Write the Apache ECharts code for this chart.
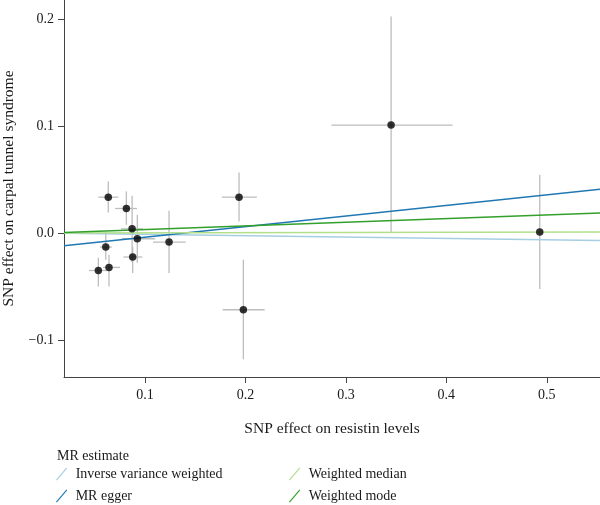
<!DOCTYPE html>
<html>
<head>
<meta charset="utf-8">
<script src="https://cdn.jsdelivr.net/npm/echarts@6/dist/echarts.min.js"></script>
<style>
  html, body { margin: 0; padding: 0; background: #fff; }
  #chart { width: 600px; height: 505px; }
</style>
</head>
<body>
<div id="chart"></div>
<script>
// SNP effects
const snpX  = [0.0634, 0.0814, 0.0871, 0.0923, 0.0609, 0.0877, 0.0641, 0.0535, 0.1239, 0.1936, 0.1979, 0.3450, 0.4930];
const snpY  = [0.0336, 0.0230, 0.0040, -0.0053, -0.0131, -0.0224, -0.0321, -0.0350, -0.0084, 0.0336, -0.0717, 0.1010, 0.0010];
const xLow  = [0.0535, 0.0701, 0.0760, 0.0768, 0.0552, 0.0784, 0.0582, 0.0442, 0.1080, 0.1764, 0.1773, 0.2855, 0.4920];
const xHigh = [0.0734, 0.0920, 0.0980, 0.1100, 0.0668, 0.0973, 0.0751, 0.0619, 0.1405, 0.2113, 0.2191, 0.4063, 0.4940];
const yLow  = [0.0193, 0.0078, -0.0270, -0.0278, -0.0250, -0.0374, -0.0499, -0.0499, -0.0374, 0.0108, -0.1180, 0.0006, -0.0523];
const yHigh = [0.0482, 0.0390, 0.0350, 0.0171, 0.0015, -0.0125, -0.0203, -0.0231, 0.0208, 0.0566, -0.0249, 0.2025, 0.0545];

// MR estimates: y = intercept + slope * x
const methods    = ['Inverse variance weighted', 'MR egger', 'Weighted median', 'Weighted mode'];
const slopes     = [-0.0125, 0.0993, 0.0018, 0.0338];
const intercepts = [0, -0.0138, 0, 0];
const colors     = ['#a6cee3', '#1f78b4', '#b2df8a', '#33a02c'];

const xTicks = [0.1, 0.2, 0.3, 0.4, 0.5];
const yTicks = [-0.1, 0.0, 0.1, 0.2];

const xMin = 0.0193, xMax = 0.553;
const yMin = -0.1346, yMax = 0.218;

const font = '"Liberation Serif", "DejaVu Serif", serif';

const myChart = echarts.init(document.getElementById('chart'));

const barData = snpX.map((x, i) => [x, snpY[i], xLow[i], xHigh[i], yLow[i], yHigh[i]]);

const lineSeries = methods.map((name, i) => ({
    name: name,
    type: 'line',
    color: colors[i],
    symbol: 'none',
    silent: true,
    z: 3,
    lineStyle: { width: 1.5, color: colors[i] },
    data: [
        [xMin, intercepts[i] + slopes[i] * xMin],
        [xMax, intercepts[i] + slopes[i] * xMax]
    ]
}));

const legendIcon = 'path://M0,14 L12,0 L13,1 L1,15 Z';
const legendBase = {
    orient: 'vertical',
    icon: legendIcon,
    itemWidth: 12,
    itemHeight: 13,
    itemGap: 8,
    padding: 0,
    height: 60,
    selectedMode: false,
    textStyle: { fontFamily: font, fontSize: 14, color: '#1a1a1a', padding: [0, 0, 0, 3] }
};

const option = {
    animation: false,
    textStyle: { fontFamily: font },
    title: {
        text: 'MR estimate',
        left: 52,
        top: 444,
        textStyle: { fontFamily: font, fontSize: 14, fontWeight: 'normal', color: '#1a1a1a' }
    },
    legend: [
        { ...legendBase, left: 56, top: 467, data: [methods[0], methods[1]] },
        { ...legendBase, left: 289, top: 467, data: [methods[2], methods[3]] }
    ],
    grid: { left: 64, right: 0, top: 0, bottom: 128, outerBoundsMode: 'none' },
    xAxis: {
        type: 'value',
        min: xMin,
        max: xMax,
        name: 'SNP effect on resistin levels',
        nameLocation: 'middle',
        nameGap: 44,
        nameTextStyle: { fontFamily: font, fontSize: 15.5, color: '#1a1a1a' },
        splitLine: { show: false },
        axisLine: { onZero: false, lineStyle: { color: '#444', width: 1 } },
        axisTick: { customValues: xTicks, length: 6, lineStyle: { color: '#444' } },
        axisLabel: {
            customValues: xTicks,
            margin: 11,
            fontFamily: font,
            fontSize: 14,
            color: '#1a1a1a',
            formatter: v => v.toFixed(1)
        }
    },
    yAxis: {
        type: 'value',
        min: yMin,
        max: yMax,
        name: 'SNP effect on carpal tunnel syndrome',
        nameLocation: 'middle',
        nameGap: 47,
        nameTextStyle: { fontFamily: font, fontSize: 15.5, color: '#1a1a1a' },
        splitLine: { show: false },
        axisLine: { onZero: false, lineStyle: { color: '#444', width: 1 } },
        axisTick: { customValues: yTicks, length: 6, lineStyle: { color: '#444' } },
        axisLabel: {
            customValues: yTicks,
            margin: 10,
            fontFamily: font,
            fontSize: 14,
            color: '#1a1a1a',
            formatter: v => v < 0 ? '\u2212' + Math.abs(v).toFixed(1) : v.toFixed(1)
        }
    },
    series: [
        {
            name: 'errors',
            type: 'custom',
            silent: true,
            z: 1,
            data: barData,
            renderItem: function (params, api) {
                const c = api.coord([api.value(0), api.value(1)]);
                const l = api.coord([api.value(2), api.value(1)]);
                const r = api.coord([api.value(3), api.value(1)]);
                const b = api.coord([api.value(0), api.value(4)]);
                const t = api.coord([api.value(0), api.value(5)]);
                const style = { stroke: '#bdbdbd', lineWidth: 1.3 };
                return {
                    type: 'group',
                    children: [
                        { type: 'line', shape: { x1: l[0], y1: c[1], x2: r[0], y2: c[1] }, style: style },
                        { type: 'line', shape: { x1: c[0], y1: b[1], x2: c[0], y2: t[1] }, style: style }
                    ]
                };
            }
        },
        ...lineSeries,
        {
            name: 'snps',
            type: 'scatter',
            z: 5,
            symbolSize: 7.5,
            itemStyle: { color: '#000' },
            data: snpX.map((x, i) => [x, snpY[i]])
        }
    ]
};

myChart.setOption(option);

window.onresize = function () {
    myChart.resize();
};
</script>
</body>
</html>
